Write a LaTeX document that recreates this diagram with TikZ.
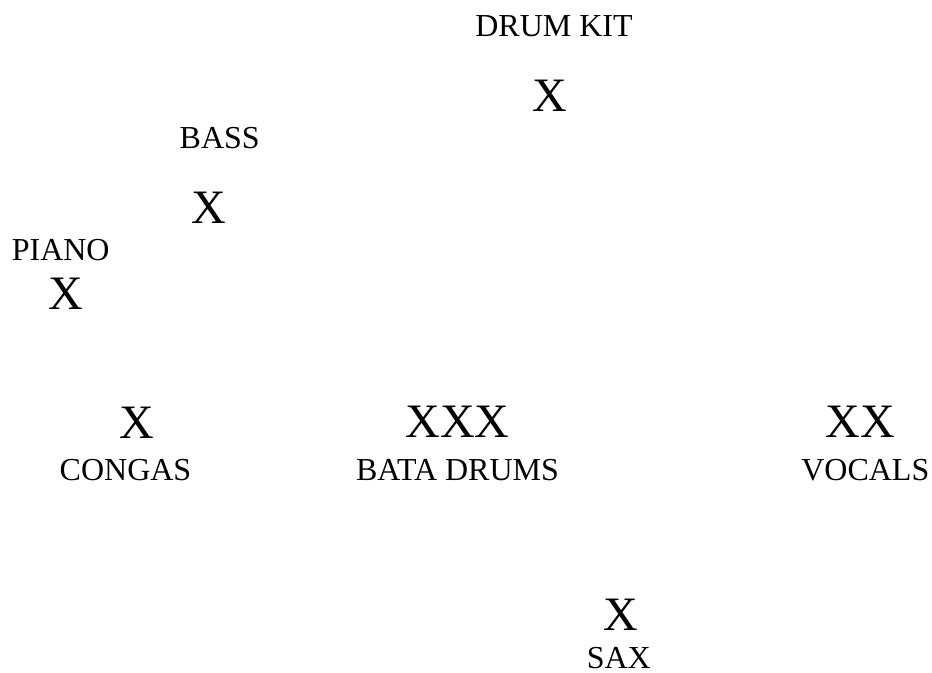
\documentclass[tikz,border=0pt]{standalone}
\usepackage{fontspec}
\setmainfont{Liberation Serif}

\begin{document}
\begin{tikzpicture}[x=0.75pt,y=-0.75pt,
  lbl/.style={anchor=base,inner sep=0pt,font=\fontsize{24}{28}\selectfont},
  spot/.style={anchor=base,inner sep=0pt,font=\fontsize{36}{42}\selectfont}]
\useasboundingbox (0,0) rectangle (932,673);
\node[lbl] (drumkit) at (554,36.7) {DRUM KIT};
\node[spot] (drumkitx) at (549.5,112) {X};
\node[lbl] (bass) at (219.7,149) {BASS};
\node[spot] (bassx) at (209,223.3) {X};
\node[lbl] (piano) at (60.7,261) {PIANO};
\node[spot] (pianox) at (65.5,310) {X};
\node[spot] (congasx) at (136.7,438.3) {X};
\node[lbl] (congas) at (125.5,480) {CONGAS};
\node[spot] (batax) at (457.5,438) {XXX};
\node[lbl] (bata) at (457.5,480) {BATA DRUMS};
\node[spot] (vocalsx) at (860,438) {XX};
\node[lbl] (vocals) at (865.3,480) {VOCALS};
\node[spot] (saxx) at (620.7,630.7) {X};
\node[lbl] (sax) at (618.8,668.3) {SAX};
\end{tikzpicture}
\end{document}
